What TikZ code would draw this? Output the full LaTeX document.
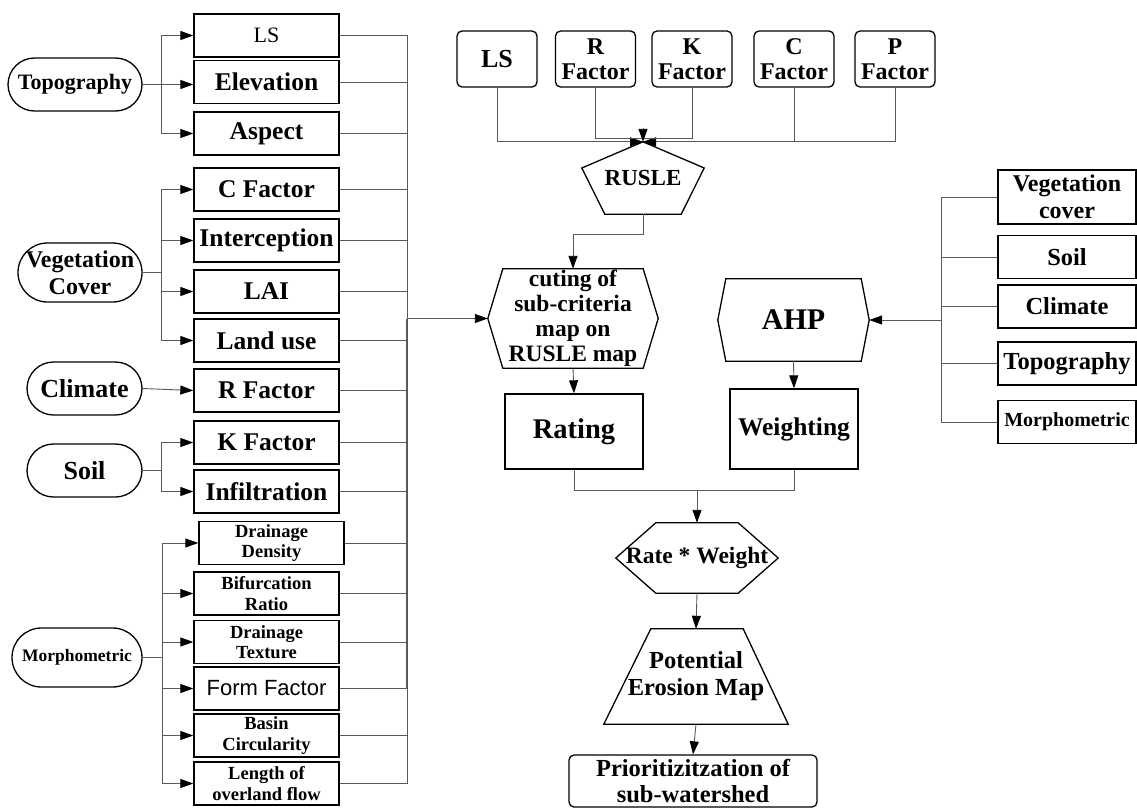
\documentclass[tikz,border=0pt]{standalone}
\usepackage{fontspec}
\setmainfont{Liberation Serif}
\newfontfamily\arialfont{Liberation Sans}
\usetikzlibrary{arrows.meta,positioning,shapes.geometric}

\begin{document}
\begin{tikzpicture}[x=1pt,y=-1pt,>={Triangle[length=13pt,width=9pt,color=black]},
  box/.style={draw,line width=1.3pt,inner sep=0pt,align=center,font=\fontsize{25.5}{27}\selectfont\bfseries},
  lbox/.style={box,minimum width=145pt,minimum height=43pt},
  mbox/.style={lbox,font=\fontsize{18.5}{20.5}\selectfont\bfseries},
  pill/.style={box,rounded corners=26.5pt,minimum height=53pt},
  tbox/.style={box,rounded corners=5pt,minimum width=80pt,minimum height=56pt,font=\fontsize{24}{25}\selectfont\bfseries},
  rbox/.style={box,minimum width=138pt,minimum height=43pt,font=\fontsize{24.5}{26}\selectfont\bfseries},
  shp/.style={inner sep=0pt,align=center},
  outline/.style={line width=1.3pt,line join=miter},
  link/.style={draw=black!65,line width=0.9pt},
  arr/.style={link,->}]
  \path[use as bounding box,fill=white] (0,0) rectangle (1137,808);

  % input groups on the left
  \node[pill,minimum width=134pt,font=\fontsize{22}{24}\selectfont\bfseries] (topo) at (75,84.5) {Topography};
  \node[pill,minimum width=124pt,minimum height=59pt,rounded corners=29.5pt,font=\fontsize{24}{27}\selectfont\bfseries] (veg) at (80,272.5) {Vegetation\\Cover};
  \node[pill,minimum width=115pt,font=\fontsize{26}{28}\selectfont\bfseries] (clim) at (84.5,388.5) {Climate};
  \node[pill,minimum width=115pt,font=\fontsize{26}{28}\selectfont\bfseries] (soil) at (84.5,470.5) {Soil};
  \node[pill,minimum width=130pt,minimum height=59pt,rounded corners=29.5pt,font=\fontsize{17.5}{19}\selectfont\bfseries] (morph) at (77,657.5) {Morphometric};

  % sub-criteria
  \node[lbox,font=\fontsize{22}{24}\selectfont] (ls) at (266.5,35.5) {LS};
  \node[lbox] (elev) at (266.5,82) {Elevation};
  \node[lbox] (asp) at (266.5,133.5) {Aspect};
  \node[lbox] (cfac) at (266.5,189.5) {C Factor};
  \node[lbox] (icpt) at (266.5,240.5) {Interception};
  \node[lbox] (lai) at (266.5,291.5) {LAI};
  \node[lbox] (land) at (266.5,340.5) {Land use};
  \node[lbox] (rfac) at (266.5,390.5) {R Factor};
  \node[lbox] (kfac) at (266.5,442.5) {K Factor};
  \node[lbox] (infl) at (266.5,491.5) {Infiltration};
  \node[mbox] (dd) at (271.5,543) {Drainage\\Density};
  \node[mbox] (bif) at (266.5,593.5) {Bifurcation\\Ratio};
  \node[mbox] (tex) at (266.5,642) {Drainage\\Texture};
  \node[lbox,font=\arialfont\fontsize{22}{24}\selectfont] (ff) at (266.5,688.5) {Form Factor};
  \node[mbox] (circ) at (266.5,735.5) {Basin\\Circularity};
  \node[mbox] (len) at (266.5,783.5) {Length of\\overland flow};

  \draw[link] (topo.east) -- ++(19,0) coordinate (tj);
  \draw[arr] (tj) |- (ls.west);
  \draw[arr] (tj) -- (tj -| elev.west);
  \draw[arr] (tj) |- (asp.west);

  \draw[link] (veg.east) -- ++(19,0) coordinate (vj);
  \foreach \n in {cfac,icpt,lai,land}
    \draw[arr] (vj) |- (\n.west);

  \draw[arr] (clim.east) -- (rfac.west);

  \draw[link] (soil.east) -- ++(19,0) coordinate (sj);
  \foreach \n in {kfac,infl}
    \draw[arr] (sj) |- (\n.west);

  \draw[link] (morph.east) -- ++(20,0) coordinate (mj);
  \foreach \n in {dd,bif,tex,ff,circ,len}
    \draw[arr] (mj) |- (\n.west);

  % collector
  \coordinate (col) at (407,0);
  \foreach \n in {ls,elev,asp,cfac,icpt,lai,land,rfac,kfac,infl,dd,bif,tex,ff,circ,len}
    \draw[link] (\n.east) -- (\n.east -| col);
  \draw[link] (ls.east -| col) -- (len.east -| col);

  % RUSLE factors
  \node[tbox,font=\fontsize{26}{27}\selectfont\bfseries] (tls) at (497,59) {LS};
  \node[tbox] (tr) at (595.5,59) {R\\Factor};
  \node[tbox] (tk) at (692,59) {K\\Factor};
  \node[tbox] (tc) at (794,59) {C\\Factor};
  \node[tbox] (tp) at (895,59) {P\\Factor};

  \node[shp,minimum width=122pt,minimum height=72pt,font=\fontsize{23}{24}\selectfont\bfseries] (rusle) at (643,178) {RUSLE};
  \draw[outline] (rusle.north) -- ([yshift=10pt]rusle.east) -- ([xshift=-23pt]rusle.south east)
    -- ([xshift=23pt]rusle.south west) -- ([yshift=10pt]rusle.west) -- cycle;

  \draw[arr] (tls.south) |- (rusle.north);
  \draw[arr] (tp.south) |- (rusle.north);
  \draw[link] (tc.south) -- (tc.south |- rusle.north);
  \draw[link] (tr.south) -- ++(0,51) -| (tk.south);
  \draw[arr] ([yshift=14pt]rusle.north) -- (rusle.north);

  % overlay and weighting
  \node[shp,minimum width=170pt,minimum height=99pt,font=\fontsize{23.5}{25}\selectfont\bfseries] (cut) at (573,318.5) {cuting of\\sub-criteria\\map on\\RUSLE map};
  \draw[outline] (cut.west) -- ([xshift=15pt]cut.north west) -- ([xshift=-15pt]cut.north east)
    -- (cut.east) -- ([xshift=-15pt]cut.south east) -- ([xshift=15pt]cut.south west) -- cycle;

  \node[shp,minimum width=151pt,minimum height=82pt,font=\fontsize{30}{32}\selectfont\bfseries] (ahp) at (793.5,320) {AHP};
  \draw[outline] (ahp.west) -- ([xshift=8pt]ahp.north west) -- ([xshift=-8pt]ahp.north east)
    -- (ahp.east) -- ([xshift=-8pt]ahp.south east) -- ([xshift=8pt]ahp.south west) -- cycle;

  \node[box,minimum width=138pt,minimum height=75pt,font=\fontsize{28.5}{30}\selectfont\bfseries] (rate) at (574,431.5) {Rating};
  \node[box,minimum width=128pt,minimum height=80pt] (wgt) at (794,429) {Weighting};

  \draw[arr] (rusle.south) -- ++(0,20) -| (cut.north);
  \draw[link,line width=1.3pt] (ff.east -| col) -- (col |- cut.west);
  \draw[arr] (col |- cut.west) -- (cut.west);
  \draw[arr] (cut.south) -- (rate.north);
  \draw[arr] (ahp.south) -- (wgt.north);

  % criteria for AHP
  \node[rbox,minimum height=54pt,font=\fontsize{24}{27}\selectfont\bfseries] (rveg) at (1067,197) {Vegetation\\cover};
  \node[rbox] (rsoil) at (1067,257) {Soil};
  \node[rbox] (rclim) at (1067,306.5) {Climate};
  \node[rbox] (rtopo) at (1067,363.5) {Topography};
  \node[rbox,font=\fontsize{20}{22}\selectfont\bfseries] (rmorph) at (1067,422) {Morphometric};

  \coordinate (rj) at (941,0);
  \foreach \n in {rveg,rsoil,rclim,rtopo,rmorph}
    \draw[link] (\n.west) -- (\n.west -| rj);
  \draw[link] (rveg.west -| rj) -- (rmorph.west -| rj);
  \draw[arr] (ahp.east -| rj) -- (ahp.east);

  % output
  \node[shp,minimum width=162pt,minimum height=70pt,font=\fontsize{23.5}{25}\selectfont\bfseries] (rxw) at (697,558) {Rate * Weight};
  \draw[outline] (rxw.west) -- ([xshift=40pt]rxw.north west) -- ([xshift=-40pt]rxw.north east)
    -- (rxw.east) -- ([xshift=-40pt]rxw.south east) -- ([xshift=40pt]rxw.south west) -- cycle;

  \node[shp,minimum width=184pt,minimum height=95pt,font=\fontsize{24.5}{27}\selectfont\bfseries] (pot) at (696,676.5) {Potential\\Erosion Map};
  \draw[outline] (pot.south west) -- ([xshift=47pt]pot.north west) -- ([xshift=-45pt]pot.north east)
    -- (pot.south east) -- cycle;

  \node[box,rounded corners=5pt,minimum width=248pt,minimum height=52pt,font=\fontsize{24.5}{26}\selectfont\bfseries] (prio) at (693,781) {Prioritizitzation of\\sub-watershed};

  \draw[link] (rate.south) -- ++(0,21) coordinate (rw) -| (wgt.south);
  \draw[arr] (rw -| rxw.north) -- (rxw.north);
  \draw[arr] (rxw.south) -- (pot.north);
  \draw[arr] (pot.south) -- (prio.north);
\end{tikzpicture}
\end{document}
